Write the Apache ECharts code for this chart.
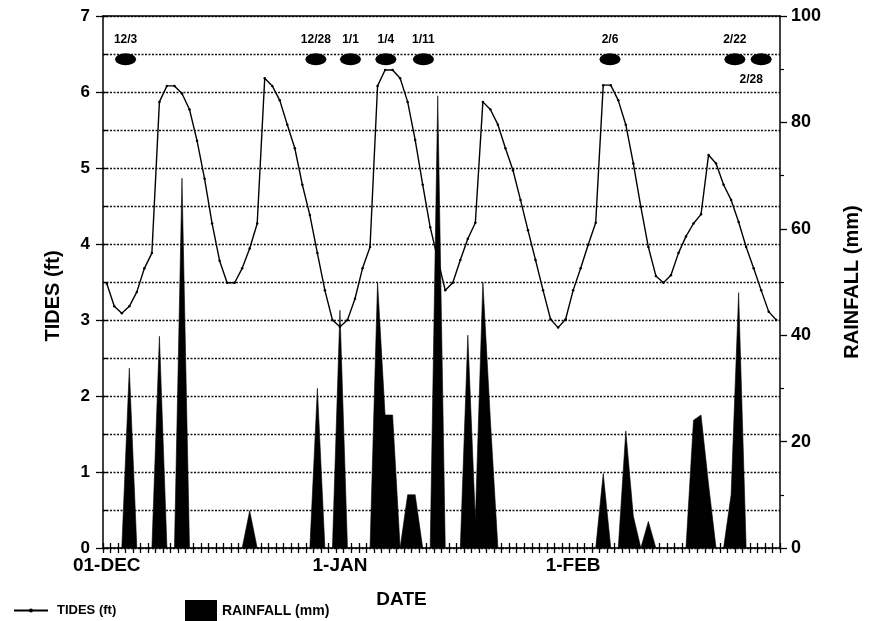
<!DOCTYPE html>
<html>
<head>
<meta charset="utf-8">
<script src="https://cdn.jsdelivr.net/npm/echarts@6/dist/echarts.min.js"></script>
<style>
  html, body { margin: 0; padding: 0; background: #fff; }
  #chart { width: 870px; height: 621px; }
</style>
</head>
<body>
<div id="chart"></div>
<script>
// days from 01-DEC to 28-FEB, one category per day
var months = ['DEC', 'JAN', 'FEB'];
var monthLen = [31, 31, 28];
var days = [];
for (var m = 0; m < 3; m++) {
  for (var d = 1; d <= monthLen[m]; d++) days.push(d + '-' + months[m]);
}

var tickIdx = [0, 31, 62];
var tickLabels = ['01-DEC', '1-JAN', '1-FEB'];

// tide height (ft), one per day
var tides = [
  3.48, 3.18, 3.09, 3.18, 3.37, 3.68, 3.88, 5.87, 6.08, 6.08,
  5.98, 5.77, 5.36, 4.86, 4.27, 3.78, 3.49, 3.49, 3.68, 3.94,
  4.27, 6.18, 6.08, 5.89, 5.57, 5.26, 4.78, 4.38, 3.88, 3.39,
  3.00, 2.91, 3.00, 3.28, 3.68, 3.96, 6.08, 6.29, 6.29, 6.18,
  5.87, 5.37, 4.78, 4.22, 3.80, 3.39, 3.49, 3.79, 4.07, 4.28,
  5.87, 5.77, 5.57, 5.26, 4.97, 4.58, 4.18, 3.79, 3.39, 3.01,
  2.90, 3.01, 3.39, 3.68, 3.99, 4.28, 6.09, 6.09, 5.89, 5.57,
  5.06, 4.49, 3.96, 3.58, 3.49, 3.59, 3.88, 4.10, 4.27, 4.39,
  5.17, 5.06, 4.78, 4.58, 4.29, 3.96, 3.68, 3.39, 3.11, 3.00
];

// rainfall (mm), one per day
var rain = [
  0, 0, 0, 33.8, 0, 0, 0, 39.8, 0, 0,
  69.5, 0, 0, 0, 0, 0, 0, 0, 0, 7,
  0, 0, 0, 0, 0, 0, 0, 0, 30, 0,
  0, 44.7, 0, 0, 0, 0, 50, 25, 25, 0,
  10, 10, 0, 0, 85, 0, 0, 0, 40, 5.3,
  50, 24, 0, 0, 0, 0, 0, 0, 0, 0,
  0, 0, 0, 0, 0, 0, 14, 0, 0, 22,
  6, 0, 5, 0, 0, 0, 0, 0, 24, 25,
  12, 0, 0, 10, 48, 0, 0, 0, 0, 0
];

// date markers along the top (position in days from 01-DEC)
var markLabels = ['12/3', '12/28', '1/1', '1/4', '1/11', '2/6', '2/22', '2/28'];
var markDay = [2.5, 27.8, 32.4, 37.1, 42.1, 66.9, 83.5, 87.0];
var markLevel = 6.43;

var font = 'Liberation Sans, Arial, sans-serif';
var dotted = { color: '#111', width: 1.4, type: [2, 1.5] };
var tickLine = { color: '#000', width: 1.3 };
var solidLine = { show: true, onZero: false, lineStyle: { color: '#000', width: 1.5 } };
var hiddenLine = { show: true, onZero: false, lineStyle: { color: 'rgba(0,0,0,0)', width: 1 } };

var markData = markDay.map(function (v, i) {
  var item = { value: [v, markLevel], name: markLabels[i] };
  if (markLabels[i] === '2/28') item.label = { position: 'bottom', offset: [-10, 0] };
  return item;
});

var myChart = echarts.init(document.getElementById('chart'));

var option = {
  backgroundColor: '#fff',
  animation: false,
  textStyle: { fontFamily: font },
  grid: {
    left: 103, right: 79, top: 16, bottom: 73,
    show: false
  },
  legend: [{
    data: ['TIDES (ft)'],
    left: 8, top: 599,
    itemWidth: 34, itemHeight: 5,
    textStyle: { fontFamily: font, fontWeight: 'bold', fontSize: 13, color: '#000', padding: [0, 0, 0, 4] }
  }, {
    data: [{ name: 'RAINFALL (mm)', icon: 'rect' }],
    left: 180, top: 595,
    itemWidth: 32, itemHeight: 22,
    textStyle: { fontFamily: font, fontWeight: 'bold', fontSize: 14, color: '#000' }
  }],
  xAxis: [{
    type: 'category',
    data: days,
    boundaryGap: true,
    position: 'bottom',
    name: 'DATE',
    nameLocation: 'middle',
    nameGap: 42,
    nameTextStyle: { fontFamily: font, fontWeight: 'bold', fontSize: 19, color: '#000', padding: [0, 80, 0, 0] },
    axisLine: solidLine,
    axisTick: { show: true, interval: 0, alignWithLabel: false, length: 5, lineStyle: tickLine },
    axisLabel: {
      show: true,
      interval: function (index) { return tickIdx.indexOf(index) >= 0; },
      formatter: function (value, index) { return tickLabels[tickIdx.indexOf(index)]; },
      fontFamily: font, fontWeight: 'bold', fontSize: 19, color: '#000', margin: 8
    },
    splitLine: { show: false }
  }, {
    type: 'category',
    data: days,
    boundaryGap: true,
    position: 'bottom',
    axisLine: hiddenLine,
    axisTick: { show: true, interval: 0, inside: true, length: 5, lineStyle: tickLine },
    axisLabel: { show: false },
    splitLine: { show: false }
  }, {
    // day scale for the date markers; its line closes the top of the box
    type: 'value',
    position: 'top',
    min: -0.5, max: 89.5,
    axisLine: solidLine,
    axisTick: { show: false },
    axisLabel: { show: false },
    splitLine: { show: false }
  }],
  yAxis: [{
    type: 'value',
    position: 'left',
    min: 0, max: 7, interval: 1,
    name: 'TIDES (ft)',
    nameLocation: 'middle',
    nameGap: 40,
    nameRotate: 90,
    nameTextStyle: { fontFamily: font, fontWeight: 'bold', fontSize: 20, color: '#000', padding: [0, 28, 0, 0] },
    axisLine: solidLine,
    axisTick: { show: true, length: 7, lineStyle: tickLine },
    axisLabel: { fontFamily: font, fontWeight: 'bold', fontSize: 17, color: '#000', margin: 13 },
    splitLine: { show: false }
  }, {
    type: 'value',
    position: 'right',
    min: 0, max: 100, interval: 20,
    name: 'RAINFALL (mm)',
    nameLocation: 'middle',
    nameGap: 62,
    nameRotate: 90,
    nameTextStyle: { fontFamily: font, fontWeight: 'bold', fontSize: 20, color: '#000' },
    axisLine: solidLine,
    axisTick: { show: true, length: 7, lineStyle: tickLine },
    minorTick: { show: true, splitNumber: 2, length: 4, lineStyle: { color: '#000', width: 1.2 } },
    axisLabel: { fontFamily: font, fontWeight: 'bold', fontSize: 18, color: '#000', margin: 11 },
    splitLine: { show: false }
  }, {
    type: 'value',
    position: 'left',
    min: 0, max: 7, interval: 0.5,
    axisLine: hiddenLine,
    axisTick: { show: true, inside: true, length: 5, lineStyle: tickLine },
    axisLabel: { show: false },
    splitLine: { show: true, lineStyle: dotted }
  }],
  series: [{
    name: 'TIDES (ft)',
    type: 'line',
    xAxisIndex: 0,
    yAxisIndex: 0,
    data: tides,
    symbol: 'circle',
    symbolSize: 2.5,
    showSymbol: true,
    itemStyle: { color: '#000' },
    lineStyle: { color: '#000', width: 1.4 },
    z: 3
  }, {
    name: 'RAINFALL (mm)',
    type: 'line',
    xAxisIndex: 0,
    yAxisIndex: 1,
    data: rain,
    symbol: 'none',
    itemStyle: { color: '#000' },
    lineStyle: { color: '#000', width: 0.6 },
    areaStyle: { color: '#000', opacity: 1 },
    z: 4
  }, {
    name: 'marks',
    type: 'scatter',
    xAxisIndex: 2,
    yAxisIndex: 0,
    data: markData,
    symbol: 'circle',
    symbolSize: [21, 12],
    itemStyle: { color: '#000', opacity: 1 },
    label: {
      show: true,
      position: 'top',
      distance: 8,
      formatter: '{b}',
      fontFamily: font, fontWeight: 'bold', fontSize: 12, color: '#000'
    },
    z: 5
  }]
};

myChart.setOption(option);

window.onresize = function () {
  myChart.resize();
};
</script>
</body>
</html>
